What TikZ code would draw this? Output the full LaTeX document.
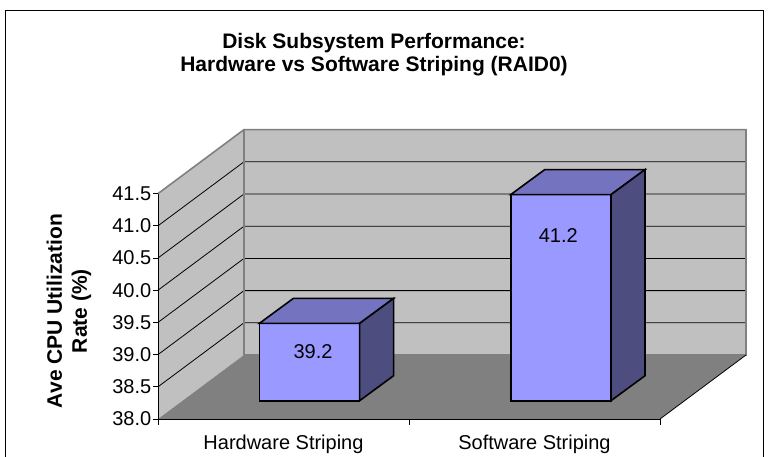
\documentclass[tikz,border=0pt]{standalone}
\usepackage{fontspec}
\setmainfont{Liberation Sans}
\definecolor{wall}{HTML}{C0C0C0}
\definecolor{floorc}{HTML}{808080}
\definecolor{edgec}{HTML}{808080}
\definecolor{barfront}{HTML}{9999FF}
\definecolor{bartop}{HTML}{7373BF}
\definecolor{barside}{HTML}{4D4D80}
\tikzset{
  wallface/.style={fill=wall},
  walledge/.style={draw=edgec,line width=1.6pt},
  gridln/.style={draw=black,line width=0.8pt},
  axisln/.style={draw=black,line width=1pt},
  barface/.style={draw=black,line width=1.6pt,line join=miter},
  ticklbl/.style={font=\fontsize{20}{24}\selectfont,inner sep=0pt},
  catlbl/.style={font=\fontsize{20}{24}\selectfont,inner sep=0pt,anchor=base},
  titlelbl/.style={font=\fontsize{21}{25}\selectfont\bfseries,align=center,inner sep=0pt},
  titleline/.style={font=\fontsize{21}{25}\selectfont\bfseries,inner sep=0pt,anchor=base},
}
\begin{document}
\begin{tikzpicture}[x=1pt,y=-1pt]
\useasboundingbox (0,0) rectangle (768,456);
% frame
\draw[line width=1pt] (5,470) -- (5,10) -- (763,10) -- (763,470);
% helpers
\def\yv#1{419-(#1-38)*64.4}
% coordinates of the plot box
\coordinate (FL) at (158,419);
\coordinate (FT) at (158,193.6);
\coordinate (BL) at (244,355);
\coordinate (BT) at (244,129.6);
\coordinate (BR) at (746,355);
\coordinate (BRT) at (746,129.6);
\coordinate (FR) at (660,419);
% back wall
\fill[wallface] (BL) rectangle (BRT);
% left wall
\fill[wallface] (FL) -- (FT) -- (BT) -- (BL) -- cycle;
% floor
\fill[fill=floorc] (FL) -- (FR) -- (BR) -- (BL) -- cycle;
% gridlines
\foreach \v in {38.5,39.0,39.5,40.0,40.5,41.0}{
  \draw[gridln] (158,{\yv{\v}}) -- (244,{\yv{\v}-64}) -- (746,{\yv{\v}-64});
}
% wall edges
\draw[walledge,line join=miter] (FT) -- (BT) -- (BRT) -- (BR) -- (BL) -- (BT);
\draw[line width=0.8pt] (FR) -- (BR);
% bars
\foreach \x/\v/\n in {259.3/39.2/hw,510.7/41.2/sw}{
  \pgfmathsetmacro{\xa}{\x}
  \pgfmathsetmacro{\xb}{\x+100.3}
  \pgfmathsetmacro{\yt}{\yv{\v}-18.3}
  \filldraw[barface,fill=barfront] (\xa,400.7) rectangle (\xb,\yt);
  \filldraw[barface,fill=bartop] (\xa,\yt) -- (\xb,\yt) -- (\xb+34,\yt-25) -- (\xa+34,\yt-25) -- cycle;
  \filldraw[barface,fill=barside] (\xb,400.7) -- (\xb,\yt) -- (\xb+34,\yt-25) -- (\xb+34,400.7-25) -- cycle;
}
\node[ticklbl] (hwval) at (313,351.7) {39.2};
\node[ticklbl] (swval) at (558.3,236) {41.2};
% axes
\draw[axisln] (FT) -- (FL) -- (FR);
\foreach \v in {38.0,38.5,39.0,39.5,40.0,40.5,41.0,41.5}{
  \draw[axisln] (153,{\yv{\v}}) -- (158,{\yv{\v}});
  \node[ticklbl,anchor=east] at (151.5,{\yv{\v}}) {\v};
}
\foreach \x in {158,409,660}{
  \draw[axisln] (\x,419) -- (\x,425);
}
\node[catlbl] (hwlbl) at (283.5,449) {Hardware Striping};
\node[catlbl] (swlbl) at (534.5,449) {Software Striping};
% axis title
\node[titlelbl,rotate=90] (ytitle) at (69,311) {Ave CPU Utilization\\Rate (\%)};
% chart title
\node[titleline] (title1) at (374,48.5) {Disk Subsystem Performance:};
\node[titleline] (title2) at (374,71) {Hardware vs Software Striping (RAID0)};
\end{tikzpicture}
\end{document}
